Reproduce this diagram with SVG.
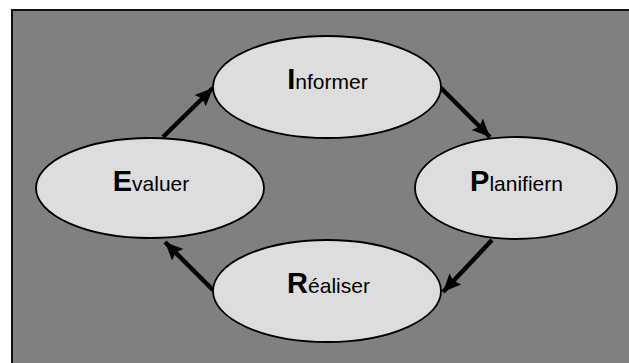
<svg xmlns="http://www.w3.org/2000/svg" width="629" height="363" viewBox="0 0 629 363">
<defs>
<style>
.node ellipse{fill:#dddddd;stroke:#000;stroke-width:1.8}
.lbl{font-family:"Liberation Sans",Arial,sans-serif;font-size:21px;fill:#000;text-anchor:middle}
.lbl .b{font-weight:bold;font-size:29px}
.conn line{stroke:#000;stroke-width:4.5;marker-end:url(#ah)}
</style>
<marker id="ah" markerUnits="userSpaceOnUse" markerWidth="20" markerHeight="18" viewBox="0 0 20 18" refX="18" refY="9" orient="auto">
<path d="M0,1 L18,9 L0,17 L3,9 Z" fill="#000"/>
</marker>
</defs>
<rect x="0" y="0" width="629" height="363" fill="#ffffff"/>
<rect x="12" y="10" width="640" height="380" fill="#808080" stroke="#111" stroke-width="2"/>
<g id="conn" class="conn">
<line x1="163" y1="137" x2="213" y2="88"/>
<line x1="440" y1="87" x2="490" y2="137"/>
<line x1="492" y1="240" x2="443" y2="292"/>
<line x1="213" y1="290" x2="165" y2="242"/>
</g>
<g id="informer" class="node">
<ellipse cx="327" cy="87" rx="114" ry="51"/>
<text class="lbl" x="327.5" y="89"><tspan class="b">I</tspan>nformer</text>
</g>
<g id="planifiern" class="node">
<ellipse cx="516" cy="188" rx="101" ry="51"/>
<text class="lbl" x="516.5" y="191"><tspan class="b">P</tspan>lanifiern</text>
</g>
<g id="realiser" class="node">
<ellipse cx="327" cy="291" rx="114" ry="51"/>
<text class="lbl" x="328.5" y="293"><tspan class="b">R</tspan>éaliser</text>
</g>
<g id="evaluer" class="node">
<ellipse cx="150" cy="188" rx="114" ry="50"/>
<text class="lbl" x="151" y="191"><tspan class="b">E</tspan>valuer</text>
</g>
</svg>
